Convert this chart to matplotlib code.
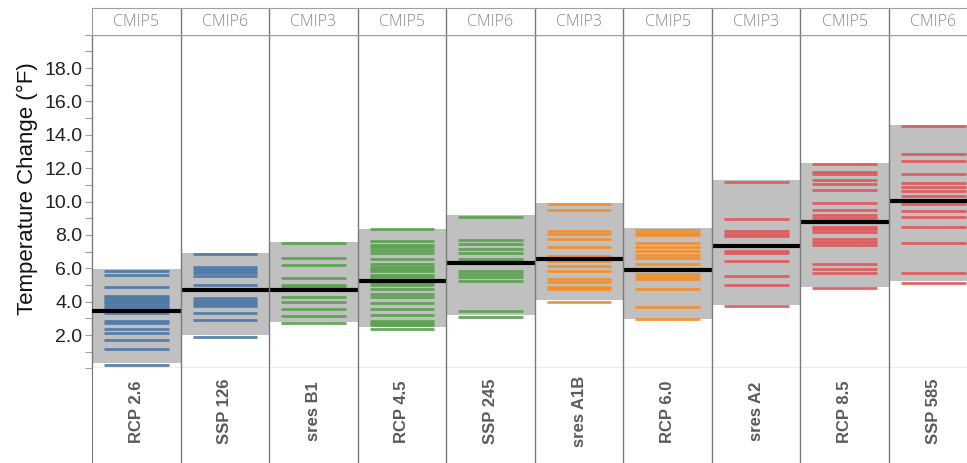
import matplotlib
matplotlib.use("Agg")
import matplotlib.pyplot as plt
from matplotlib.patches import Rectangle

# ---------------------------------------------------------------
# Data
# ---------------------------------------------------------------

scenarios = ["RCP 2.6", "SSP 126", "sres B1", "RCP 4.5", "SSP 245",
             "sres A1B", "RCP 6.0", "sres A2", "RCP 8.5", "SSP 585"]
projects = ["CMIP5", "CMIP6", "CMIP3", "CMIP5", "CMIP6",
            "CMIP3", "CMIP5", "CMIP3", "CMIP5", "CMIP6"]
groups = ["low", "low", "mid", "mid", "mid",
          "midhigh", "midhigh", "high", "high", "high"]

means = [3.46, 4.69, 4.69, 5.25, 6.29, 6.55, 5.91, 7.35, 8.75, 10.04]
range_low = [0.30, 2.02, 2.78, 2.46, 3.18, 4.10, 2.98, 3.82, 4.89, 5.25]
range_high = [5.93, 6.93, 7.57, 8.37, 9.17, 9.92, 8.41, 11.28, 12.32, 14.59]

rcp26 = [5.85, 5.60, 4.85, 4.35, 4.25, 4.15, 4.05, 3.95, 3.85, 3.75,
         3.60, 3.30, 2.85, 2.70, 2.35, 2.15, 1.70, 1.15, 0.22]
ssp126 = [6.85, 6.05, 5.95, 5.85, 5.70, 5.55, 5.01, 4.20, 4.10, 3.95,
          3.85, 3.72, 3.30, 2.90, 1.90]
sres_b1 = [7.49, 6.61, 6.17, 5.41, 4.98, 4.86, 4.29, 3.98, 3.58, 3.14, 2.70]
rcp45 = [8.33, 7.65, 7.41, 7.29, 7.09, 6.89, 6.57, 6.25, 6.09, 5.93,
         5.81, 5.57, 5.45, 5.10, 4.98, 4.74, 4.46, 4.26, 3.94, 3.54,
         3.22, 2.86, 2.70, 2.58, 2.38]
ssp245 = [9.09, 7.69, 7.45, 7.13, 6.89, 6.53, 6.41, 5.81, 5.65, 5.45,
          5.25, 3.46, 3.06]
sres_a1b = [9.84, 9.49, 8.25, 8.05, 7.77, 7.25, 6.73, 6.41, 6.13, 5.81,
            5.33, 5.17, 4.89, 4.74, 3.98]
rcp60 = [8.29, 8.13, 8.01, 7.49, 7.29, 7.05, 6.81, 6.61, 6.25, 5.65,
         5.49, 5.37, 4.77, 3.66, 2.94]
sres_a2 = [11.18, 8.93, 8.21, 8.05, 7.93, 7.05, 6.89, 6.43, 5.55, 5.01, 3.75]
rcp85 = [12.28, 11.80, 11.64, 11.28, 11.08, 10.72, 9.92, 9.49, 9.17, 9.01,
         8.49, 8.33, 8.17, 7.73, 7.57, 7.41, 6.25, 5.97, 5.69, 4.81]
ssp585 = [14.51, 12.84, 12.44, 11.64, 11.12, 10.88, 10.64, 10.36, 9.84,
          9.44, 9.05, 8.45, 7.49, 5.69, 5.13]

models = [rcp26, ssp126, sres_b1, rcp45, ssp245,
          sres_a1b, rcp60, sres_a2, rcp85, ssp585]

GROUP_COLORS = {
    "low": "#4e79a7",
    "mid": "#59a14f",
    "midhigh": "#f28e2b",
    "high": "#e15759",
}

SEP_COLOR = "#7a7a7a"
FRAME_COLOR = "#a0a0a0"

# ---------------------------------------------------------------
# Layout
# ---------------------------------------------------------------

W, H = 967, 463
left = 92 / W
width = 885.6 / W
plot_top = 34.7
plot_bottom = 368.4
head_top = 8.0

fig = plt.figure(figsize=(W / 100, H / 100), dpi=100)

ax = fig.add_axes([left, 1 - plot_bottom / H, width, (plot_bottom - plot_top) / H])
ax_head = fig.add_axes([left, 1 - plot_top / H, width, (plot_top - head_top) / H])
ax_foot = fig.add_axes([left, -0.02, width, 1 - plot_bottom / H + 0.02])

n = len(scenarios)

# ---------------------------------------------------------------
# Main panels
# ---------------------------------------------------------------

for i in range(n):

    color = GROUP_COLORS[groups[i]]

    ax.add_patch(
        Rectangle(
            (i, range_low[i]),
            1,
            range_high[i] - range_low[i],
            facecolor="#c0c0c0",
            edgecolor="none",
            zorder=1,
        )
    )

    ax.hlines(
        models[i],
        i + 0.135,
        i + 0.865,
        colors=color,
        linewidth=2.0,
        alpha=0.92,
        zorder=2,
    )

    ax.hlines(
        means[i],
        i,
        i + 1,
        colors="black",
        linewidth=3.0,
        zorder=3,
    )

for i in range(1, n):
    ax.axvline(i, color=SEP_COLOR, linewidth=1.0, zorder=4)

ax.set_xlim(0, n)
ax.set_ylim(0, 20)

ax.set_xticks([])
ax.set_yticks(range(0, 21, 2))
ax.set_yticklabels([""] + [f"{v:.1f}" for v in range(2, 19, 2)] + [""])
ax.set_yticks(range(1, 20, 2), minor=True)
ax.tick_params(axis="y", which="both", length=5, width=0.8,
               color=FRAME_COLOR, labelsize=14, labelcolor="#222222", pad=2)
for lbl in ax.get_yticklabels():
    lbl.set_family(["Liberation Sans", "DejaVu Sans"])

ax.set_ylabel("Temperature Change (°F)", fontsize=16,
              family=["Liberation Sans", "DejaVu Sans"],
              color="#111111")
ax.yaxis.set_label_coords(-0.061, 0.54)

for side in ["top", "bottom", "left"]:
    ax.spines[side].set_color(FRAME_COLOR)
    ax.spines[side].set_linewidth(1.0)
ax.spines["left"].set_color(SEP_COLOR)
ax.spines["right"].set_visible(False)

# ---------------------------------------------------------------
# Header strip (project)
# ---------------------------------------------------------------

ax_head.set_xlim(0, n)
ax_head.set_ylim(0, 1)
ax_head.set_xticks([])
ax_head.set_yticks([])
for side in ["top", "bottom", "left"]:
    ax_head.spines[side].set_color(FRAME_COLOR)
ax_head.spines["right"].set_visible(False)

for i in range(n):
    ax_head.text(i + 0.5, 0.48, projects[i], ha="center", va="center",
                 fontsize=11.5, color="#8a8a8a", fontweight="light",
                 family=["Open Sans", "DejaVu Sans"])
for i in range(1, n):
    ax_head.axvline(i, color=SEP_COLOR, linewidth=1.0)

# ---------------------------------------------------------------
# Footer strip (scenario)
# ---------------------------------------------------------------

ax_foot.set_xlim(0, n)
ax_foot.set_ylim(0, 1)
ax_foot.set_xticks([])
ax_foot.set_yticks([])
for side in ["top", "bottom", "right"]:
    ax_foot.spines[side].set_visible(False)
ax_foot.spines["left"].set_color(SEP_COLOR)

for i in range(n):
    ax_foot.text(i + 0.5, 0.585, scenarios[i], ha="center", va="center",
                 rotation=90, fontsize=12, fontweight="bold", color="#5a5a5a",
                 family=["Liberation Sans", "DejaVu Sans"])
for i in range(1, n):
    ax_foot.axvline(i, color=SEP_COLOR, linewidth=1.0)

fig.savefig("out.png", dpi=100)
